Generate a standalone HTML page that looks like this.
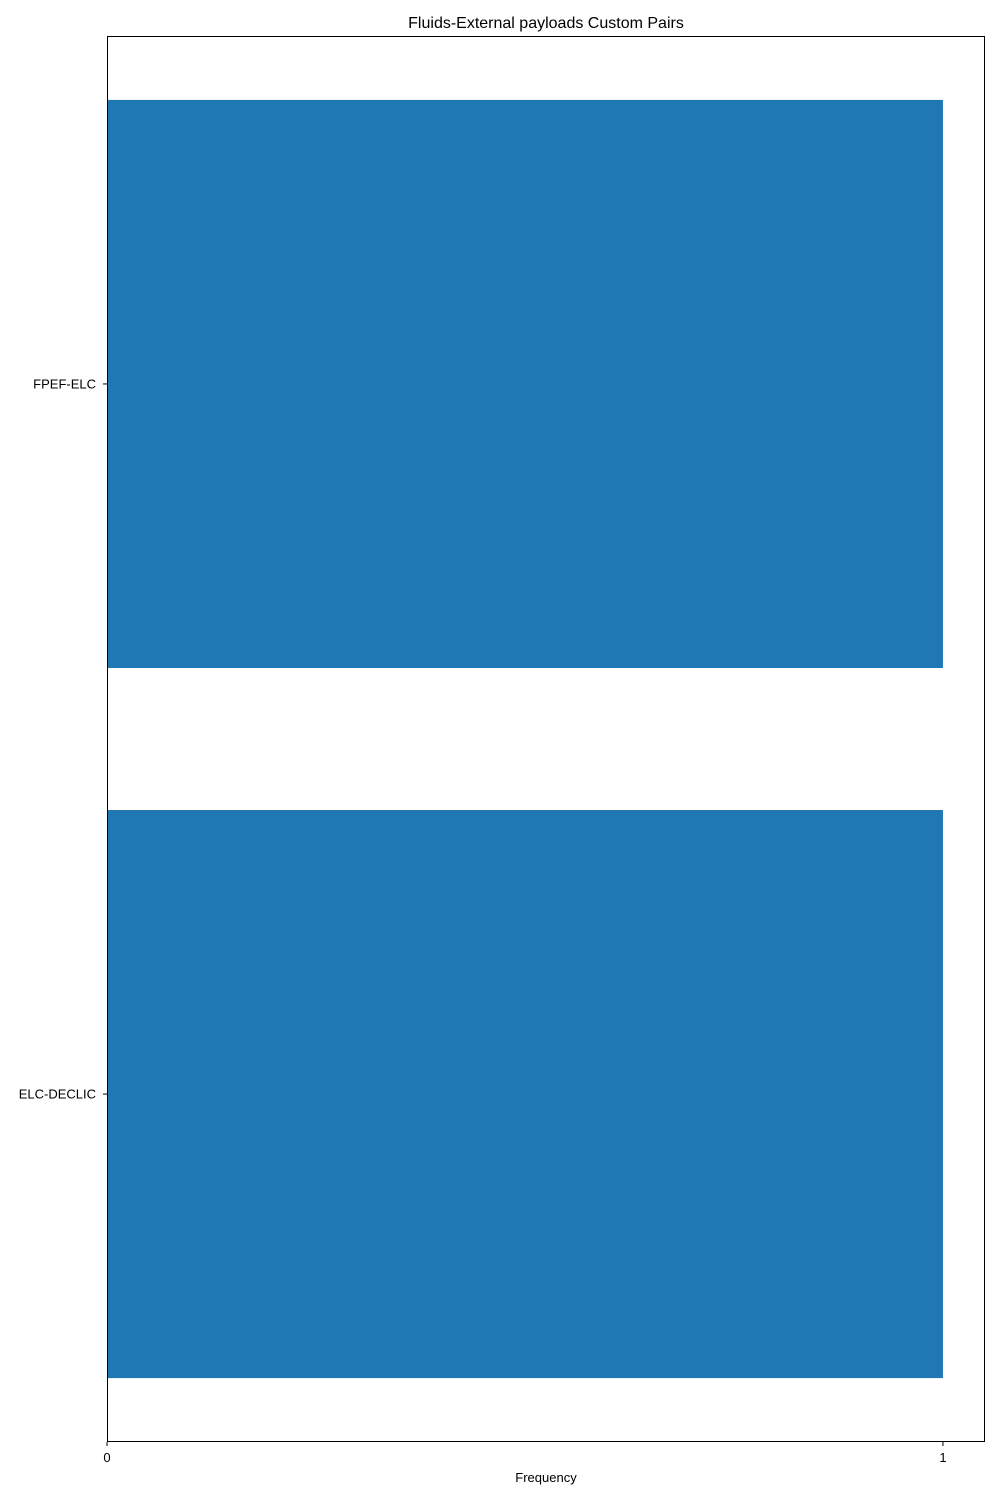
<!DOCTYPE html>
<html><head><meta charset="utf-8"><style>
html,body{margin:0;padding:0;background:#fff;}
svg{display:block;font-family:"Liberation Sans","DejaVu Sans",sans-serif;}
</style></head><body>
<svg id="chart" width="1000" height="1500"></svg>
<script>
const categories = ["ELC-DECLIC", "FPEF-ELC"];
const frequencies = [1, 1];
const xTickValues = [0, 1];
const xTickLabels = ["0", "1"];

const NS = "http://www.w3.org/2000/svg";
const svg = document.getElementById("chart");
const L = 107, R = 985, T = 36, B = 1442;
const xMin = 0, xMax = 1.0503;
const yMin = -0.49, yMax = categories.length - 1 + 0.49;
const xs = v => L + (v - xMin) / (xMax - xMin) * (R - L);
const ys = v => B - (v - yMin) / (yMax - yMin) * (B - T);
function mk(tag, attrs, text) {
  const e = document.createElementNS(NS, tag);
  for (const k in attrs) e.setAttribute(k, attrs[k]);
  if (text !== undefined) e.textContent = text;
  svg.appendChild(e);
  return e;
}
const barH = 0.8;
categories.forEach((c, i) => {
  const r = mk("rect", {x: xs(0), y: ys(i + barH / 2), width: xs(frequencies[i]) - xs(0), height: ys(i - barH / 2) - ys(i + barH / 2), fill: "#1f77b4"});
  
  
  const tk = mk("line", {x1: L - 4, x2: L, y1: ys(i), y2: ys(i), stroke: "#000", "stroke-width": 1});
  
  
  const lb = mk("text", {x: L - 11, y: ys(i) + 4.5, "text-anchor": "end", "font-size": 13}, c);
  
  
});
xTickValues.forEach((v, i) => {
  const tk = mk("line", {x1: xs(v), x2: xs(v), y1: B, y2: B + 4, stroke: "#000", "stroke-width": 1});
  
  
  const lb = mk("text", {x: xs(v), y: B + 20, "text-anchor": "middle", "font-size": 13}, xTickLabels[i]);
  
  
});
const frame = mk("rect", {x: L + 0.5, y: T + 0.5, width: R - L - 1, height: B - T - 1, fill: "none", stroke: "#000", "stroke-width": 1});


const xt = mk("text", {x: (L + R) / 2, y: 1482, "text-anchor": "middle", "font-size": 13}, "Frequency");


const tt = mk("text", {x: (L + R) / 2, y: 28, "text-anchor": "middle", "font-size": 16}, "Fluids-External payloads Custom Pairs");


</script>
</body></html>
